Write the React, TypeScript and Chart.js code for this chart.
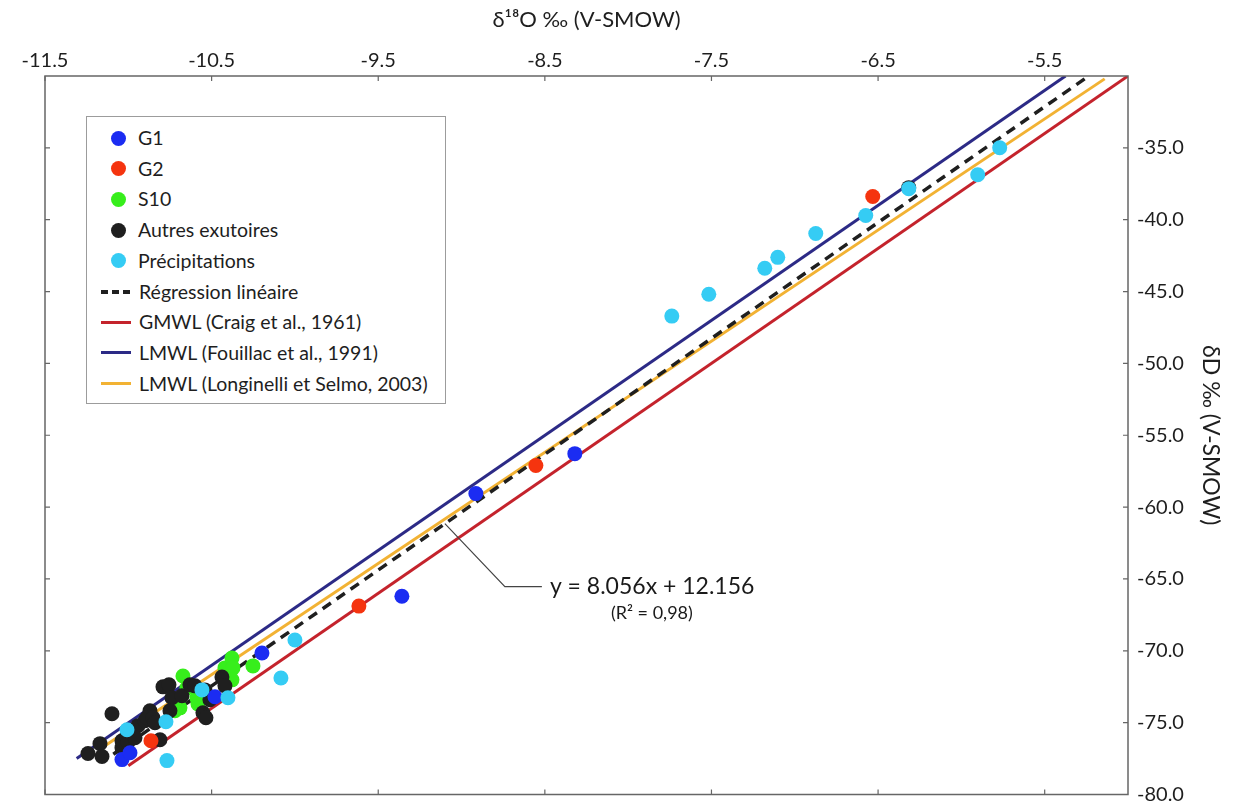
import React, { useEffect, useRef } from "react";
import { Chart, registerables } from "chart.js";

Chart.register(...registerables);

const FONT = "Lato, 'Noto Sans', 'DejaVu Sans', sans-serif";

// Axis ranges and tick labels
const X_MIN = -11.5;
const X_MAX = -5.0;
const Y_MIN = -80;
const Y_MAX = -30;
const X_TICKS = [-11.5, -10.5, -9.5, -8.5, -7.5, -6.5, -5.5];
const Y_TICKS = [-80, -75, -70, -65, -60, -55, -50, -45, -40, -35];

const X_TITLE = "δ¹⁸O ‰ (V-SMOW)";
const Y_TITLE = "δD ‰ (V-SMOW)";

// G1
const G1_X = [-8.914, -8.32, -9.358, -10.198, -10.48, -11.038, -10.99];
const G1_Y = [-59.06, -56.28, -66.2, -70.15, -73.2, -77.57, -77.09];

// G2
const G2_X = [-8.554, -9.616, -6.532, -10.864];
const G2_Y = [-57.11, -66.89, -38.39, -76.26];

// S10
const S10_X = [-10.672, -10.69, -10.72, -10.588, -10.582, -10.42, -10.378, -10.372, -10.378, -10.252, -10.648];
const S10_Y = [-71.75, -73.97, -74.17, -73.27, -73.69, -71.19, -70.5, -71.19, -72.02, -71.05, -72.58];

// Autres exutoires
const AUT_X = [
  -11.098, -11.17, -11.242, -11.158, -11.038, -11.038, -11.008, -10.972, -10.942, -10.9,
  -10.87, -10.888, -10.852, -10.81, -10.792, -10.756, -10.738, -10.75, -10.678, -10.63,
  -10.6, -10.54, -10.51, -10.552, -10.534, -10.438, -10.42, -6.316, -11.002, -10.96, -10.84,
];
const AUT_Y = [
  -74.38, -76.46, -77.15, -77.36, -76.74, -76.26, -75.91, -75.56, -75.21, -74.87,
  -74.17, -74.66, -74.66, -76.19, -72.51, -72.37, -73.27, -74.17, -73.13, -72.37,
  -72.44, -72.72, -73.41, -74.31, -74.66, -71.82, -72.44, -37.77, -76.39, -76.05, -75.0,
];

// Précipitations
const PRE_X = [-5.77, -5.902, -6.316, -6.574, -6.874, -7.102, -7.18, -7.516, -7.738, -10.0, -10.084, -10.402, -10.558, -10.774, -11.008, -10.768];
const PRE_Y = [-34.99, -36.87, -37.84, -39.71, -40.96, -42.62, -43.38, -45.19, -46.71, -69.25, -71.89, -73.27, -72.72, -74.94, -75.49, -77.64];

// Lines (end points)
const REG_X = [-11.09, -5.26];
const REG_Y = [-77.2, -30.2];
const GMWL_X = [-11.0, -5.0];
const GMWL_Y = [-78.0, -30.0];
const FOU_X = [-11.31, -5.375];
const FOU_Y = [-77.5, -30.0];
const LON_X = [-11.14, -5.14];
const LON_Y = [-76.6, -30.2];

// Regression annotation
const EQ_TEXT = "y = 8.056x + 12.156";
const R2_TEXT = "(R² = 0,98)";
const EQ_ANCHOR_X = -9.1;
const EQ_ANCHOR_Y = -61.15;

const C_G1 = "#1b2cf2";
const C_G2 = "#f5340f";
const C_S10 = "#37ee1c";
const C_AUT = "#1f1f1f";
const C_PRE = "#35ccf4";
const C_REG = "#1f1f1f";
const C_GMWL = "#c4232c";
const C_FOU = "#2c2a86";
const C_LON = "#f2b233";

const pts = (xs: number[], ys: number[]) => xs.map((x, i) => ({ x, y: ys[i] }));

const LEGEND = [
  { label: "G1", kind: "dot", color: C_G1 },
  { label: "G2", kind: "dot", color: C_G2 },
  { label: "S10", kind: "dot", color: C_S10 },
  { label: "Autres exutoires", kind: "dot", color: C_AUT },
  { label: "Précipitations", kind: "dot", color: C_PRE },
  { label: "Régression linéaire", kind: "dash", color: C_REG },
  { label: "GMWL (Craig et al., 1961)", kind: "line", color: C_GMWL },
  { label: "LMWL (Fouillac et al., 1991)", kind: "line", color: C_FOU },
  { label: "LMWL (Longinelli et Selmo, 2003)", kind: "line", color: C_LON },
];

const framePlugin = {
  id: "frameTicks",
  afterDraw(chart: any) {
    const { ctx, chartArea } = chart;
    const { left, right, top, bottom } = chartArea;
    const xs = chart.scales.x;
    const ys = chart.scales.y;
    ctx.save();
    ctx.strokeStyle = "#666";
    ctx.lineWidth = 1.5;
    ctx.strokeRect(left, top, right - left, bottom - top);
    ctx.lineWidth = 1.2;
    ctx.beginPath();
    X_TICKS.forEach((v) => {
      const p = xs.getPixelForValue(v);
      ctx.moveTo(p, top);
      ctx.lineTo(p, top + 5);
      ctx.moveTo(p, bottom);
      ctx.lineTo(p, bottom - 5);
    });
    Y_TICKS.forEach((v) => {
      const p = ys.getPixelForValue(v);
      ctx.moveTo(right, p);
      ctx.lineTo(right - 5, p);
      ctx.moveTo(left, p);
      ctx.lineTo(left + 5, p);
    });
    ctx.stroke();

    // regression annotation
    const ax = xs.getPixelForValue(EQ_ANCHOR_X);
    const ay = ys.getPixelForValue(EQ_ANCHOR_Y);
    ctx.strokeStyle = "#444";
    ctx.lineWidth = 1.2;
    ctx.beginPath();
    ctx.moveTo(ax, ay);
    ctx.lineTo(ax + 60, ay + 63);
    ctx.lineTo(ax + 97, ay + 63);
    ctx.stroke();
    ctx.fillStyle = "#1a1a1a";
    ctx.textBaseline = "middle";
    ctx.textAlign = "left";
    ctx.font = `23px ${FONT}`;
    ctx.fillText(EQ_TEXT, ax + 105, ay + 63);
    ctx.textAlign = "center";
    ctx.font = `18px ${FONT}`;
    ctx.fillText(R2_TEXT, ax + 207, ay + 90);
    ctx.restore();
  },
};

export default function App() {
  const ref = useRef<HTMLCanvasElement>(null);

  useEffect(() => {
    if (!ref.current) return;
    const dot = (label: string, xs: number[], ys: number[], color: string, order: number) => ({
      label,
      data: pts(xs, ys),
      backgroundColor: color,
      borderColor: color,
      borderWidth: 0,
      pointRadius: 7.5,
      pointHoverRadius: 7.5,
      showLine: false,
      order,
    });
    const line = (label: string, xs: number[], ys: number[], color: string, order: number, dash: number[] = [], width = 3) => ({
      label,
      data: pts(xs, ys),
      borderColor: color,
      backgroundColor: color,
      borderWidth: width,
      borderDash: dash,
      pointRadius: 0,
      showLine: true,
      fill: false,
      order,
    });

    const chart = new Chart(ref.current, {
      type: "scatter",
      data: {
        datasets: [
          dot("Précipitations", PRE_X, PRE_Y, C_PRE, 1),
          dot("G1", G1_X, G1_Y, C_G1, 2),
          dot("G2", G2_X, G2_Y, C_G2, 3),
          dot("Autres exutoires", AUT_X, AUT_Y, C_AUT, 4),
          dot("S10", S10_X, S10_Y, C_S10, 5),
          line("Régression linéaire", REG_X, REG_Y, C_REG, 10, [10, 7], 3.5),
          line("GMWL (Craig et al., 1961)", GMWL_X, GMWL_Y, C_GMWL, 11),
          line("LMWL (Fouillac et al., 1991)", FOU_X, FOU_Y, C_FOU, 12),
          line("LMWL (Longinelli et Selmo, 2003)", LON_X, LON_Y, C_LON, 13),
        ] as any,
      },
      options: {
        responsive: false,
        animation: false,
        devicePixelRatio: 1,
        events: [],
        layout: { padding: { left: 45, top: 0, right: 0, bottom: 5 } },
        plugins: {
          legend: { display: false },
          tooltip: { enabled: false },
        },
        scales: {
          x: {
            type: "linear",
            position: "top",
            min: X_MIN,
            max: X_MAX,
            afterBuildTicks: (s: any) => {
              s.ticks = X_TICKS.map((v) => ({ value: v }));
            },
            afterFit: (s: any) => {
              s.height = 76;
              s.paddingLeft = 0;
              s.paddingRight = 0;
            },
            grid: { display: false, drawTicks: false },
            border: { display: false },
            ticks: {
              font: { family: FONT, size: 20 },
              color: "#1e1e1e",
              padding: 3,
              maxRotation: 0,
              autoSkip: false,
              callback: (v: any) => Number(v).toFixed(1),
            },
            title: {
              display: true,
              text: X_TITLE,
              font: { family: FONT, size: 22 },
              color: "#1e1e1e",
              padding: { top: 7, bottom: 0 },
            },
          },
          y: {
            type: "linear",
            position: "right",
            min: Y_MIN,
            max: Y_MAX,
            afterBuildTicks: (s: any) => {
              s.ticks = Y_TICKS.map((v) => ({ value: v }));
            },
            afterFit: (s: any) => {
              s.width = 106;
              s.paddingTop = 0;
              s.paddingBottom = 0;
            },
            grid: { display: false, drawTicks: false },
            border: { display: false },
            ticks: {
              font: { family: FONT, size: 20 },
              color: "#1e1e1e",
              padding: 9,
              autoSkip: false,
              callback: (v: any) => Number(v).toFixed(1),
            },
            title: {
              display: true,
              text: Y_TITLE,
              font: { family: FONT, size: 23 },
              color: "#1e1e1e",
              padding: { top: 10, bottom: 0 },
            },
          },
        },
      } as any,
      plugins: [framePlugin],
    });
    return () => chart.destroy();
  }, []);

  return (
    <div style={{ position: "fixed", left: 0, top: 0, width: 1234, height: 802, background: "#fff", overflow: "hidden" }}>
      <canvas ref={ref} width={1234} height={802} style={{ display: "block", width: 1234, height: 802 }} />
      <div
        style={{
          position: "absolute",
          left: 86,
          top: 116,
          width: 360,
          height: 288,
          boxSizing: "border-box",
          border: "1.5px solid #9c9c9c",
          background: "#fff",
          fontFamily: FONT,
          fontSize: 19.5,
          color: "#1e1e1e",
        }}
      >
        {LEGEND.map((item, i) => {
          const cy = 21 + i * 30.7;
          return (
            <div key={item.label} style={{ position: "absolute", left: 0, top: cy - 15, height: 30, width: "100%" }}>
              {item.kind === "dot" && (
                <span
                  style={{
                    position: "absolute",
                    left: 23.5,
                    top: 7.5,
                    width: 15,
                    height: 15,
                    borderRadius: "50%",
                    background: item.color,
                  }}
                />
              )}
              {item.kind === "line" && (
                <span style={{ position: "absolute", left: 14, top: 13.5, width: 30, height: 3, background: item.color }} />
              )}
              {item.kind === "dash" && (
                <span
                  style={{
                    position: "absolute",
                    left: 14,
                    top: 13,
                    width: 29,
                    height: 4,
                    background: `repeating-linear-gradient(to right, ${item.color} 0 7px, transparent 7px 11px)`,
                  }}
                />
              )}
              <span
                style={{
                  position: "absolute",
                  left: item.kind === "dot" ? 51 : 52,
                  top: 0,
                  lineHeight: "30px",
                  whiteSpace: "nowrap",
                }}
              >
                {item.label}
              </span>
            </div>
          );
        })}
      </div>
    </div>
  );
}
